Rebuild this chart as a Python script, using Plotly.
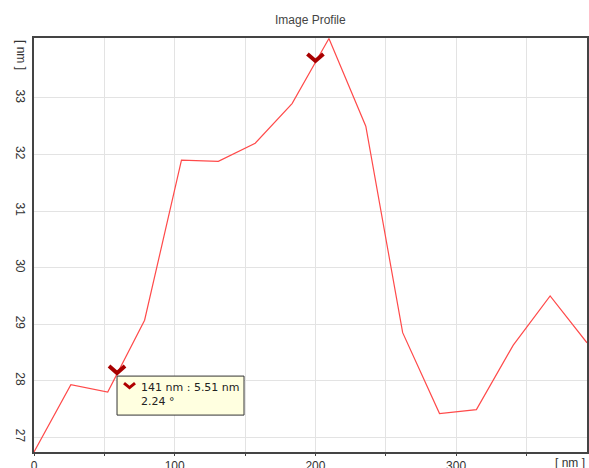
import plotly.graph_objects as go

# Profile data (nm)
dist_nm = [0, 26.2, 52.4, 78.6, 104.8, 131.0, 157.2, 183.4, 209.6, 235.8,
           262.0, 288.2, 314.4, 340.6, 366.8, 393.0]
height_nm = [26.74, 27.93, 27.80, 29.07, 31.90, 31.88, 32.20, 32.90, 34.05, 32.50,
             28.85, 27.42, 27.49, 28.63, 29.50, 28.67]

# Cursor markers
cursor_x = [59, 200]
cursor_y = [28.1, 33.62]

x_tick_vals = [0, 50, 100, 150, 200, 250, 300, 350]
x_tick_text = ["0", "", "100", "", "200", "", "300", ""]
y_tick_vals = [27, 28, 29, 30, 31, 32, 33]

title_text = "Image Profile"
readout_text = "141 nm : 5.51 nm<br>2.24 °"
unit_text = "[ nm ]"

TXT = "#333333"
fig = go.Figure()
fig.add_trace(go.Scatter(x=dist_nm, y=height_nm, mode="lines",
                         line=dict(color="#ff4a4a", width=1.2),
                         hoverinfo="skip", showlegend=False))

shapes = []
# readout box (pixel-sized, anchored at first cursor)
shapes.append(dict(type="rect", xref="x", yref="y",
                   xsizemode="pixel", ysizemode="pixel",
                   xanchor=cursor_x[0], yanchor=cursor_y[0],
                   x0=0, x1=127, y0=-1, y1=-40,
                   fillcolor="#ffffe0", line=dict(color="#333333", width=1),
                   layer="above"))
# chevrons on the line
for cx, cy in zip(cursor_x, cursor_y):
    shapes.append(dict(type="path", xref="x", yref="y",
                       xsizemode="pixel", ysizemode="pixel",
                       xanchor=cx, yanchor=cy,
                       path="M -8,9 L 0,2 L 8,9",
                       line=dict(color="#a80000", width=4), layer="above"))
# small chevron inside the box
shapes.append(dict(type="path", xref="x", yref="y",
                   xsizemode="pixel", ysizemode="pixel",
                   xanchor=cursor_x[0], yanchor=cursor_y[0],
                   path="M 7,-8 L 12.5,-12.5 L 18,-8",
                   line=dict(color="#b00000", width=3), layer="above"))

annotations = [
    dict(x=cursor_x[0], y=cursor_y[0], xref="x", yref="y", text=readout_text,
         showarrow=False, align="left", xanchor="left", yanchor="top",
         xshift=22, yshift=-4,
         font=dict(family="DejaVu Sans", size=11, color="#222222")),
    dict(x=0.5, y=1, xref="paper", yref="paper", text=title_text,
         showarrow=False, xanchor="center", yanchor="middle", yshift=18,
         font=dict(family="Liberation Sans", size=12, color="#444444")),
    dict(x=1.0, y=0, xref="paper", yref="paper", text=unit_text,
         showarrow=False, xanchor="right", yanchor="top", yshift=-2,
         font=dict(family="Liberation Sans", size=12, color=TXT)),
    dict(x=0, y=1.0, xref="paper", yref="paper", text=unit_text,
         showarrow=False, xanchor="center", yanchor="top", xshift=-13,
         textangle=90,
         font=dict(family="Liberation Sans", size=12, color=TXT)),
]

fig.update_layout(
    width=589, height=468,
    margin=dict(l=34, r=2, t=38, b=16),
    paper_bgcolor="white", plot_bgcolor="white",
    shapes=shapes, annotations=annotations,
    xaxis=dict(range=[0, 393], tickvals=x_tick_vals, ticktext=x_tick_text,
               automargin=False,
               showgrid=True, gridcolor="#e3e3e3", gridwidth=1,
               ticks="outside", ticklen=2, tickcolor="#444",
               showline=True, linecolor="#444444", linewidth=1.5, mirror=True,
               zeroline=False,
               tickfont=dict(family="Liberation Sans", size=12, color=TXT)),
    yaxis=dict(range=[26.74, 34.06], tickvals=y_tick_vals, automargin=False,
               showgrid=True, gridcolor="#e3e3e3", gridwidth=1,
               ticks="", tickangle=90, ticklabelstandoff=2,
               showline=True, linecolor="#444444", linewidth=1.5, mirror=True,
               zeroline=False,
               tickfont=dict(family="Liberation Sans", size=12, color=TXT)),
)

fig.write_html("out.html",
               config={"displayModeBar": False},
               post_script="document.body.style.margin='0';"
                           "document.body.style.overflow='hidden';")
